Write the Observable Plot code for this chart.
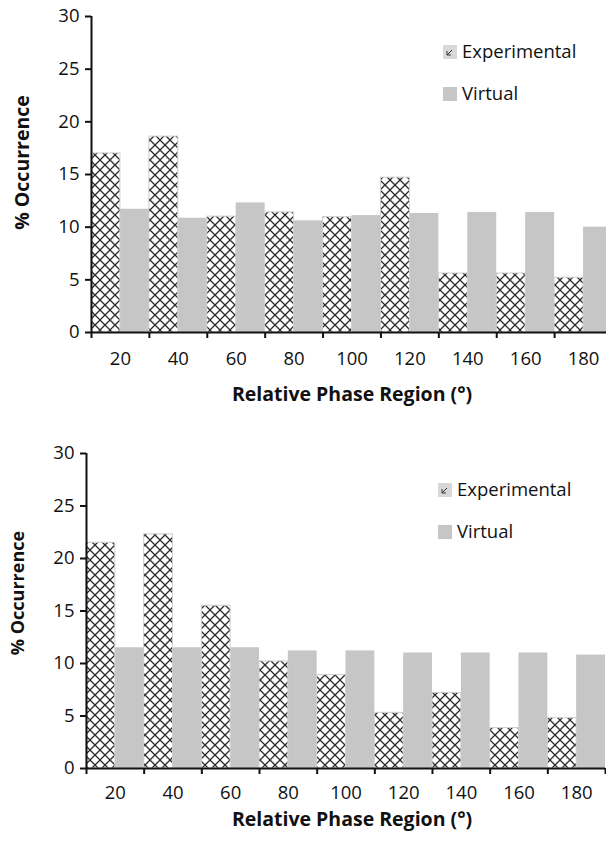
<!DOCTYPE html>
<html>
<head>
<meta charset="utf-8">
<script src="https://cdn.jsdelivr.net/npm/d3@7"></script>
<script src="https://cdn.jsdelivr.net/npm/@observablehq/plot@0.6"></script>
<style>
  html, body { margin: 0; padding: 0; background: #fff; overflow: hidden; }
  #wrap { position: relative; width: 606px; height: 843px; overflow: hidden; font-family: "Open Sans", Lato, sans-serif; color: #111; }
  #wrap svg.chart { position: absolute; left: 0; max-width: none !important; }
  .legend { position: absolute; font-size: 18.5px; line-height: 1; }
  .legend .item { display: flex; align-items: center; height: 21px; margin-bottom: 21px; }
  .legend .sw { width: 14px; height: 14px; margin-right: 5px; flex: none; }
</style>
</head>
<body>
<svg width="0" height="0" style="position:absolute">
  <defs>
    <pattern id="xhatch" patternUnits="userSpaceOnUse" width="10" height="10">
      <rect width="10" height="10" fill="#fff"></rect>
      <path d="M-1,-1L11,11M11,-1L-1,11" stroke="#2b2b2b" stroke-width="1.3"></path>
    </pattern>
    <pattern id="xhatchsmall" patternUnits="userSpaceOnUse" width="14" height="14">
      <rect width="14" height="14" fill="#d8d8d8"></rect>
      <path d="M4,6L4,10L8,10M4,10L9,5" stroke="#333" stroke-width="1" fill="none"></path>
    </pattern>
  </defs>
</svg>
<div id="wrap"></div>
<script>
const categories = [20, 40, 60, 80, 100, 120, 140, 160, 180];
const seriesNames = ["Experimental", "Virtual"];
const yTicks = [0, 5, 10, 15, 20, 25, 30];
const topExperimental = [17.0, 18.6, 11.0, 11.4, 10.95, 14.7, 5.6, 5.6, 5.2];
const topVirtual = [11.7, 10.85, 12.3, 10.6, 11.1, 11.3, 11.4, 11.4, 10.0];
const bottomExperimental = [21.5, 22.3, 15.5, 10.2, 8.9, 5.3, 7.2, 3.85, 4.8];
const bottomVirtual = [11.5, 11.5, 11.5, 11.2, 11.2, 11.0, 11.0, 11.0, 10.8];
const xTitle = "Relative Phase Region (°)";
const yTitle = "% Occurrence";

const step = categories[1] - categories[0];
const boundaries = [...categories.map(c => c - step / 2), categories[categories.length - 1] + step / 2];
const xDomain = [boundaries[0], boundaries[boundaries.length - 1]];

function rows(exp, vir) {
  const out = [];
  categories.forEach((c, i) => {
    out.push({series: seriesNames[0], region: c, x1: c - step / 2, x2: c, value: exp[i]});
    out.push({series: seriesNames[1], region: c, x1: c, x2: c + step / 2, value: vir[i]});
  });
  return out;
}

function makeChart(exp, vir, o) {
  const data = rows(exp, vir);
  return Plot.plot({
    width: 620,
    height: o.height,
    marginLeft: o.marginLeft,
    marginRight: o.marginRight,
    marginTop: o.marginTop,
    marginBottom: o.marginBottom,
    style: {fontFamily: "'Open Sans', Lato, sans-serif", color: "#111", background: "transparent", overflow: "visible", maxWidth: "none"},
    x: {domain: xDomain, label: null},
    y: {domain: [0, 30], label: null},
    marks: [
      Plot.rectY(data.filter(d => d.series === seriesNames[1]), {x1: "x1", x2: "x2", y: "value", fill: "#c6c6c6"}),
      Plot.rectY(data.filter(d => d.series === seriesNames[0]), {x1: "x1", x2: "x2", y: "value", fill: "url(#xhatch)", stroke: "#cfcfcf", strokeWidth: 1}),
      Plot.axisY({ticks: yTicks, tickSize: 6, tickPadding: 6, fontSize: 18.5, strokeWidth: 2}),
      Plot.axisX({ticks: boundaries, tickSize: 6, tickFormat: () => "", strokeWidth: 2}),
      Plot.axisX({ticks: categories, tickSize: 0, tickPadding: o.tickPad, fontSize: 18.5}),
      Plot.ruleX([xDomain[0]], {stroke: "#111", strokeWidth: 2}),
      Plot.ruleY([0], {stroke: "#111", strokeWidth: 2}),
      Plot.text([xTitle], {frameAnchor: "bottom", lineAnchor: "middle", textAnchor: "middle", dy: o.xTitleDy, dx: o.xTitleDx, fontSize: 19.5, fontWeight: "bold", fill: "#111"}),
      Plot.text([yTitle], {frameAnchor: "left", textAnchor: "middle", lineAnchor: "middle", dx: o.yTitleDx, dy: o.yTitleDy, rotate: -90, fontSize: o.yTitleSize, fontWeight: "bold", fill: "#111"})
    ]
  });
}

function legend(left, top) {
  const div = document.createElement("div");
  div.className = "legend";
  div.style.left = left + "px";
  div.style.top = top + "px";
  const fills = ["url(#xhatchsmall)", "#c6c6c6"];
  seriesNames.forEach((name, i) => {
    const item = document.createElement("div");
    item.className = "item";
    item.innerHTML = `<svg class="sw" width="14" height="14"><rect width="14" height="14" fill="${fills[i]}"></rect></svg><span>${name}</span>`;
    div.appendChild(item);
  });
  return div;
}

const wrap = document.getElementById("wrap");

const top1 = makeChart(topExperimental, topVirtual, {height: 420, marginLeft: 91, marginRight: 8, marginTop: 16, marginBottom: 88, tickPad: 19, xTitleDy: 62, xTitleDx: 0, yTitleDx: -69, yTitleDy: -12, yTitleSize: 19.5});
top1.classList.add("chart");
top1.style.top = "0px";
wrap.appendChild(top1);
wrap.appendChild(legend(443, 41));

const bot = makeChart(bottomExperimental, bottomVirtual, {height: 443, marginLeft: 86, marginRight: 15, marginTop: 53, marginBottom: 75, tickPad: 17, xTitleDy: 51, xTitleDx: 6, yTitleDx: -68, yTitleDy: -18, yTitleSize: 18});
bot.classList.add("chart");
bot.style.top = "400px";
wrap.appendChild(bot);
wrap.appendChild(legend(438, 479));
</script>
</body>
</html>
